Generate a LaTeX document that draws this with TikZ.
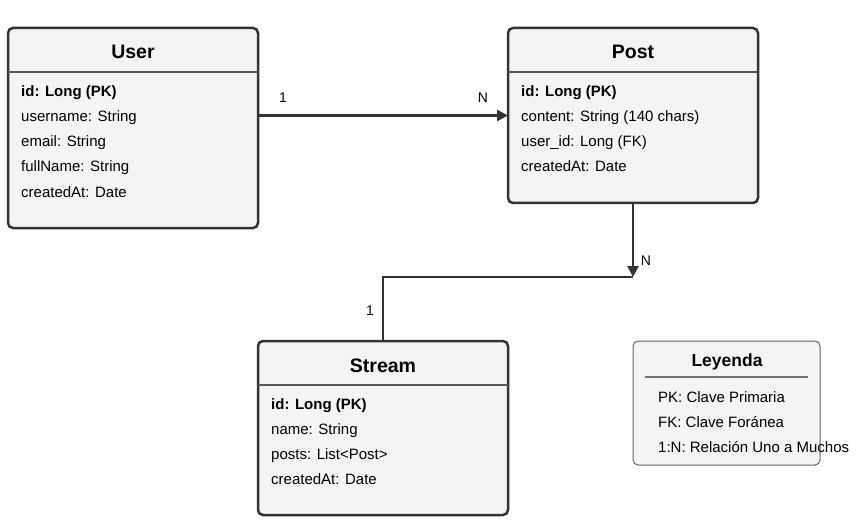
\documentclass[tikz,border=0pt]{standalone}
\usepackage{fontspec}
\setmainfont{Liberation Sans}
\usetikzlibrary{arrows.meta}
\definecolor{boxfill}{HTML}{F4F4F4}
\definecolor{boxline}{HTML}{333333}
\definecolor{sepline}{HTML}{555555}
\tikzset{
  entity/.style={draw=boxline,fill=boxfill,line width=2.5pt,rounded corners=5pt,minimum width=250pt,anchor=north west,outer sep=0pt},
  legendbox/.style={draw=gray!80!black,fill=boxfill,line width=1pt,rounded corners=5pt,anchor=north west,outer sep=0pt,minimum width=187pt,minimum height=124pt},
  title/.style={font=\fontsize{19.5}{22}\selectfont\bfseries,anchor=base},
  field/.style={font=\fontsize{15}{18}\selectfont,anchor=base west,inner sep=0pt},
  key/.style={field,font=\fontsize{15}{18}\selectfont\bfseries},
  card/.style={font=\fontsize{14}{16}\selectfont,inner sep=0pt},
  link/.style={draw=boxline,line width=2.5pt},
}
\begin{document}
\begin{tikzpicture}[x=1pt,y=-1pt]
\useasboundingbox (0,0) rectangle (866,529);
% USER
\node [entity,minimum height=200pt] (user) at (8,28) {};
\draw [sepline,line width=1.5pt] (8,72) -- (258,72);
\node [title] (usert) at (133,59) {User};
\node [key] (u1) at (21,97) {id: Long (PK)};
\node [field] (u2) at (21,122) {username: String};
\node [field] (u3) at (21,147) {email: String};
\node [field] (u4) at (21,172) {fullName: String};
\node [field] (u5) at (21,197) {createdAt: Date};
% POST
\node [entity,minimum height=175pt] (post) at (508,28) {};
\draw [sepline,line width=1.5pt] (508,72) -- (758,72);
\node [title] (postt) at (633,59) {Post};
\node [key] (p1) at (521,97) {id: Long (PK)};
\node [field] (p2) at (521,122) {content: String (140 chars)};
\node [field] (p3) at (521,147) {user\_id: Long (FK)};
\node [field] (p4) at (521,172) {createdAt: Date};
% STREAM
\node [entity,minimum height=174pt] (stream) at (258,341) {};
\draw [sepline,line width=1.5pt] (258,385) -- (508,385);
\node [title] (streamt) at (383,372) {Stream};
\node [key] (s1) at (271,409) {id: Long (PK)};
\node [field] (s2) at (271,434) {name: String};
\node [field] (s3) at (271,459) {posts: List<Post>};
\node [field] (s4) at (271,484) {createdAt: Date};
% LEGEND
\node [legendbox] (legend) at (633,341) {};
\draw [gray!90!black,line width=1.5pt] (645,377) -- (808,377);
\node [title,font=\fontsize{17.5}{20}\selectfont\bfseries] (legendt) at (727,366) {Leyenda};
\node [field] (l1) at (658,402) {PK: Clave Primaria};
\node [field] (l2) at (658,427) {FK: Clave Foránea};
\node [field] (l3) at (658,452) {1:N: Relación Uno a Muchos};
% RELATIONS
\coordinate (bend) at (633,277);
\draw [link,-{Triangle[length=11pt,width=11pt]}] (user.east |- post.west) -- (post.west);
\draw [link,-{Triangle[length=11pt,width=11pt]}] (post.south) -- (bend);
\draw [link] (stream.north) |- (bend);
\node [card] (c1) at (283,98) {1};
\node [card] (c2) at (483,98) {N};
\node [card] (c3) at (646,261) {N};
\node [card] (c4) at (370,311) {1};
\end{tikzpicture}
\end{document}
